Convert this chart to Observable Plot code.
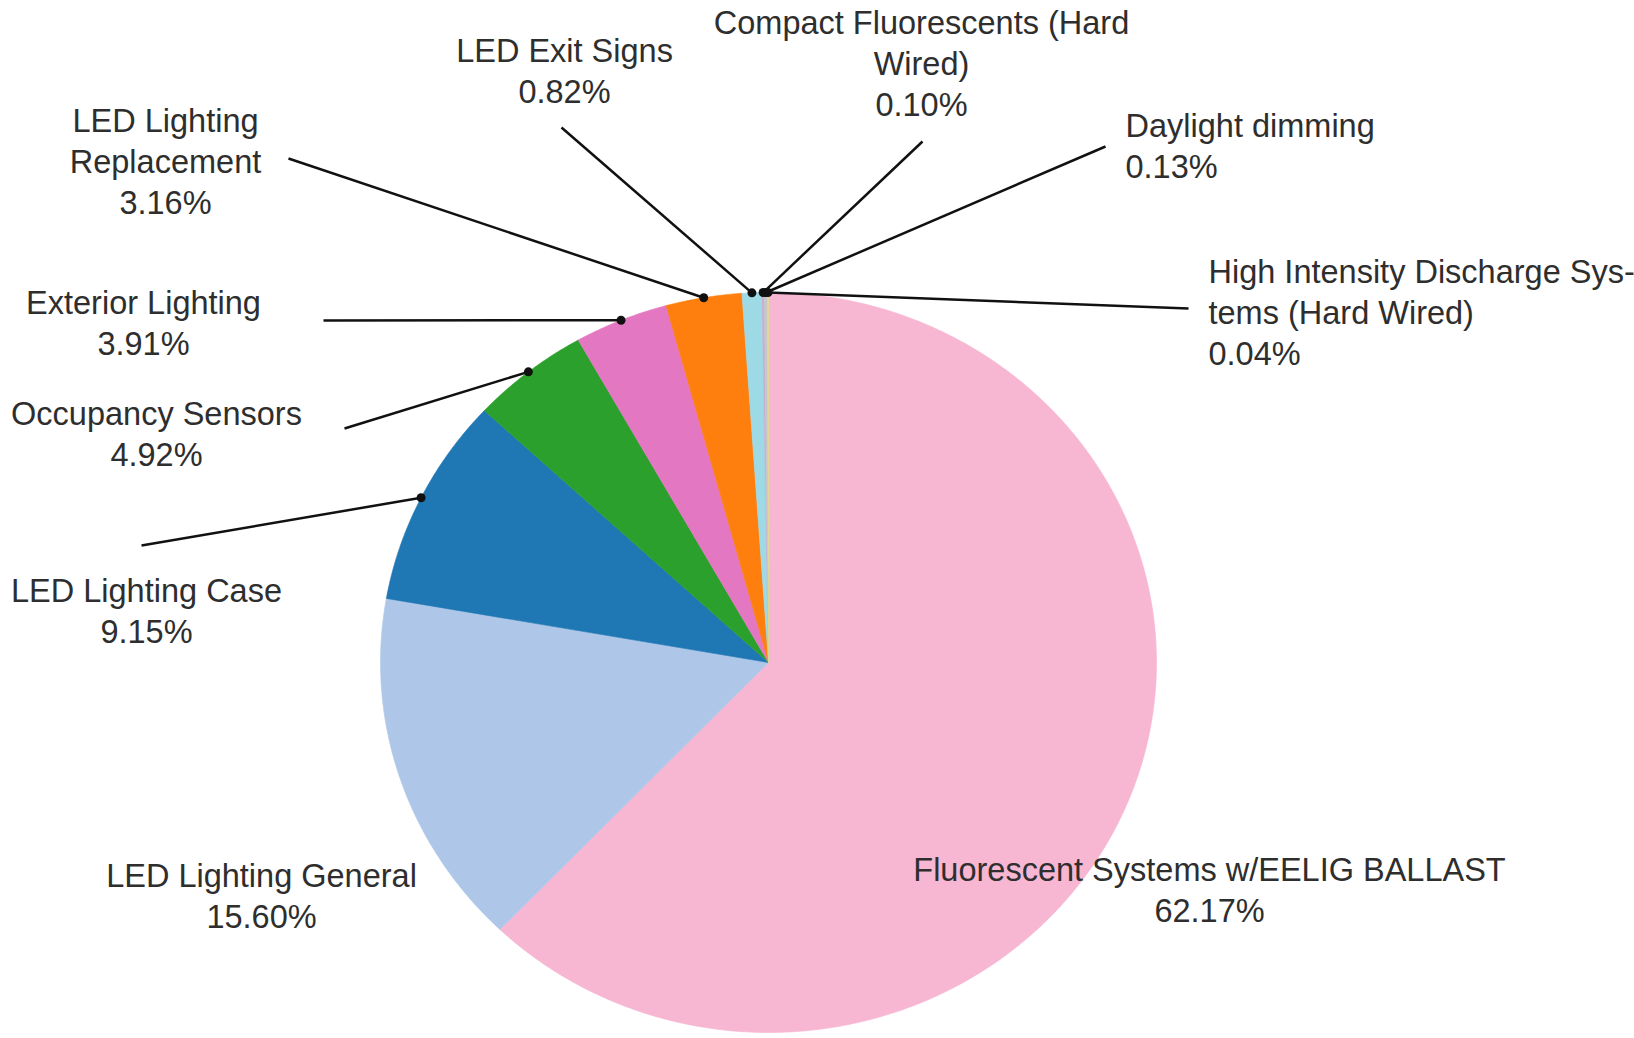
<!DOCTYPE html>
<html>
<head>
<meta charset="utf-8">
<script src="https://cdn.jsdelivr.net/npm/d3@7"></script>
<script src="https://cdn.jsdelivr.net/npm/@observablehq/plot@0.6"></script>
<style>
  html, body { margin: 0; padding: 0; background: #fff; }
  #chart svg { display: block; }
</style>
</head>
<body>
<div id="chart"></div>
<script>
// Share of lighting measures (percent of total savings)
const categories = [
  "Fluorescent Systems w/EELIG BALLAST",
  "LED Lighting General",
  "LED Lighting Case",
  "Occupancy Sensors",
  "Exterior Lighting",
  "LED Lighting Replacement",
  "LED Exit Signs",
  "Compact Fluorescents (Hard Wired)",
  "Daylight dimming",
  "High Intensity Discharge Systems (Hard Wired)"
];
const shares = [62.17, 15.60, 9.15, 4.92, 3.91, 3.16, 0.82, 0.10, 0.13, 0.04];
const colors = [
  "#f7b6d2", "#aec7e8", "#1f77b4", "#2ca02c", "#e377c2",
  "#ff7f0e", "#9edae5", "#c5b0d5", "#c7c7c7", "#dbdb8d"
];

// Label text as it wraps on the page
const labelText = [
  "Fluorescent Systems w/EELIG BALLAST",
  "LED Lighting General",
  "LED Lighting Case",
  "Occupancy Sensors",
  "Exterior Lighting",
  "LED Lighting\nReplacement",
  "LED Exit Signs",
  "Compact Fluorescents (Hard\nWired)",
  "Daylight dimming",
  "High Intensity Discharge Sys-\ntems (Hard Wired)"
];

// ---- layout (pixels) ----
const W = 1634, H = 1038;
const CX = 768, CY = 662, RX = 388, RY = 370;
const ux = px => (px - CX) / RX;
const uy = py => (CY - py) / RY;

// label block position, alignment and leader-line end (pixels)
const labelLayout = [
  {x: 1209, y: 888, anchor: "middle", lead: null},
  {x: 261,  y: 894, anchor: "middle", lead: null},
  {x: 146,  y: 609, anchor: "middle", lead: [141, 545]},
  {x: 156,  y: 432, anchor: "middle", lead: [344, 428]},
  {x: 143,  y: 321, anchor: "middle", lead: [323, 320]},
  {x: 165,  y: 159, anchor: "middle", lead: [288, 158]},
  {x: 564,  y: 69,  anchor: "middle", lead: [561, 127]},
  {x: 921,  y: 61,  anchor: "middle", lead: [922, 141]},
  {x: 1125, y: 144, anchor: "start",  lead: [1105, 146]},
  {x: 1208, y: 310, anchor: "start",  lead: [1188, 308]}
];

const rows = categories.map((c, i) => ({category: c, share: shares[i], i}));

// pie angles, clockwise from 12 o'clock
const arcs = d3.pie().sort(null).value(d => d.share)(rows);

// wedge outlines in unit-circle coordinates (x/y scales stretch them to the ellipse)
const wedges = arcs.flatMap(a => {
  const c = a.data.category;
  const n = Math.max(2, Math.ceil((a.endAngle - a.startAngle) / (Math.PI / 360)));
  const pts = [{category: c, x: 0, y: 0}];
  for (let k = 0; k <= n; ++k) {
    const t = a.startAngle + (a.endAngle - a.startAngle) * k / n;
    pts.push({category: c, x: Math.sin(t), y: Math.cos(t)});
  }
  pts.push({category: c, x: 0, y: 0});
  return pts;
});

const labels = arcs.map(a => {
  const L = labelLayout[a.data.i];
  const mid = (a.startAngle + a.endAngle) / 2;
  return {
    category: a.data.category,
    text: `${labelText[a.data.i]}\n${a.data.share.toFixed(2)}%`,
    anchor: L.anchor,
    x: ux(L.x), y: uy(L.y),
    dx: Math.sin(mid), dy: Math.cos(mid),
    lead: L.lead ? {x: ux(L.lead[0]), y: uy(L.lead[1])} : null
  };
});
const leaders = labels.filter(d => d.lead);

const textStyle = {
  fontSize: 32.5,
  fontFamily: "Liberation Sans, Arial, Helvetica, sans-serif",
  fill: "#2e2e2e",
  lineHeight: 1.26,
  lineAnchor: "middle"
};

const chart = Plot.plot({
  width: W,
  height: H,
  marginLeft: CX - RX,
  marginRight: W - CX - RX,
  marginTop: CY - RY,
  marginBottom: H - CY - RY,
  x: {domain: [-1, 1], axis: null},
  y: {domain: [-1, 1], axis: null},
  color: {type: "ordinal", domain: categories, range: colors},
  style: {background: "#fff", overflow: "visible"},
  marks: [
    Plot.line(wedges, {
      x: "x", y: "y", z: "category",
      fill: "category", stroke: "category", strokeWidth: 0.6,
      curve: "linear"
    }),
    Plot.link(leaders, {
      x1: d => d.dx, y1: d => d.dy,
      x2: d => d.lead.x, y2: d => d.lead.y,
      stroke: "#111", strokeWidth: 2.5
    }),
    Plot.dot(leaders, {
      x: d => d.dx, y: d => d.dy,
      r: 4.5, fill: "#111", stroke: "none"
    }),
    Plot.text(labels.filter(d => d.anchor === "middle"), {
      x: "x", y: "y", text: "text", textAnchor: "middle", ...textStyle
    }),
    Plot.text(labels.filter(d => d.anchor === "start"), {
      x: "x", y: "y", text: "text", textAnchor: "start", ...textStyle
    })
  ]
});

document.getElementById("chart").appendChild(chart);
</script>
</body>
</html>
